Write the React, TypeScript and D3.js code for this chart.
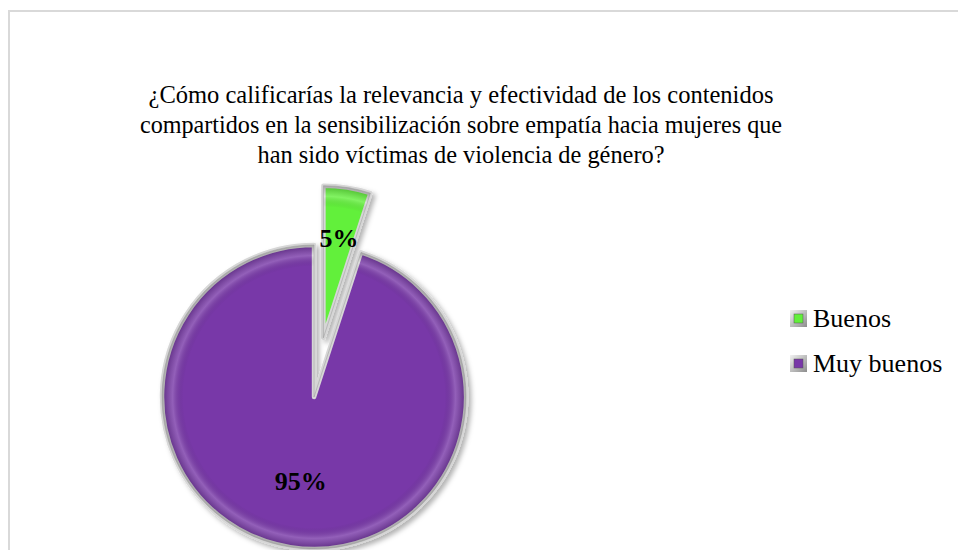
import React from "react";
import * as d3 from "d3";

const titleLines = [
  "¿Cómo calificarías la relevancia y efectividad de los contenidos",
  "compartidos en la sensibilización sobre empatía hacia mujeres que",
  "han sido víctimas de violencia de género?",
];
const titleWidths = [625, 642, 407];
const categories = ["Buenos", "Muy buenos"];
const values = [5, 95];
const labels = ["5%", "95%"];
const colors = ["#62f03a", "#7837a8"];

const W = 958;
const H = 550;
const R = 152;
const C = { x: 315.6, y: 387.1 };
const explode = [50, 10];
const labelK = [0.66, 0.56];

export default function App() {
  const pie = d3.pie<number>().sort(null).value((d) => d)(values);
  const arc = d3.arc<d3.PieArcDatum<number>>().innerRadius(0).outerRadius(R);
  const font = "'Liberation Serif', 'Times New Roman', serif";

  return (
    <svg
      width={W}
      height={H}
      style={{ position: "absolute", left: 0, top: 0, background: "#fff" }}
    >
      <defs>
        <filter id="sh" x="-20%" y="-20%" width="140%" height="140%">
          <feDropShadow dx="3" dy="3" stdDeviation="2.5" floodColor="#000" floodOpacity="0.3" />
        </filter>
        <radialGradient id="bevel" cx="0" cy="0" r={R} gradientUnits="userSpaceOnUse">
          <stop offset="0%" stopColor="#000" stopOpacity="0" />
          <stop offset="86%" stopColor="#000" stopOpacity="0" />
          <stop offset="93%" stopColor="#fff" stopOpacity="0.2" />
          <stop offset="100%" stopColor="#000" stopOpacity="0.22" />
        </radialGradient>
        <linearGradient id="mk" x1="0" y1="0" x2="1" y2="1">
          <stop offset="0%" stopColor="#f2f2f2" />
          <stop offset="100%" stopColor="#8c8c8c" />
        </linearGradient>
      </defs>
      <rect x={9} y={11} width={1000} height={600} fill="none" stroke="#d9d9d9" strokeWidth={2} />
      {titleLines.map((t, i) => (
        <text
          key={i}
          x={461}
          y={103 + i * 30}
          textAnchor="middle"
          fontFamily={font}
          fontSize={25.5}
          textLength={titleWidths[i]}
          lengthAdjust="spacingAndGlyphs"
          fill="#000"
        >
          {t}
        </text>
      ))}
      {pie.map((p, i) => {
        const mid = (p.startAngle + p.endAngle) / 2;
        const cx = C.x + Math.sin(mid) * explode[i];
        const cy = C.y - Math.cos(mid) * explode[i];
        return (
          <g key={i} transform={`translate(${cx},${cy})`}>
            <path d={arc(p) || ""} fill={colors[i]} stroke="#d6d6d6" strokeWidth={4.5} strokeLinejoin="round" filter="url(#sh)" />
            <path d={arc(p) || ""} fill="url(#bevel)" stroke="none" />
            <path d={arc(p) || ""} fill="none" stroke="#9a9a9a" strokeWidth={1} strokeLinejoin="round" opacity={0.5} />
          </g>
        );
      })}
      {pie.map((p, i) => {
        const mid = (p.startAngle + p.endAngle) / 2;
        const rr = explode[i] + R * labelK[i];
        const x = C.x + Math.sin(mid) * rr;
        const y = C.y - Math.cos(mid) * rr;
        return (
          <text
            key={"l" + i}
            x={x}
            y={y}
            textAnchor="middle"
            dominantBaseline="central"
            fontFamily={font}
            fontWeight="bold"
            fontSize={26}
            fill="#000"
          >
            {labels[i]}
          </text>
        );
      })}
      {categories.map((c, i) => (
        <g key={"g" + i} transform={`translate(790,${310 + i * 45})`}>
          <rect x={0} y={0} width={17} height={17} fill="url(#mk)" />
          <rect x={4} y={4} width={9} height={9} fill={colors[i]} stroke="#555" strokeWidth={0.5} />
          <text x={23} y={17} fontFamily={font} fontSize={26} fill="#000">
            {c}
          </text>
        </g>
      ))}
    </svg>
  );
}
